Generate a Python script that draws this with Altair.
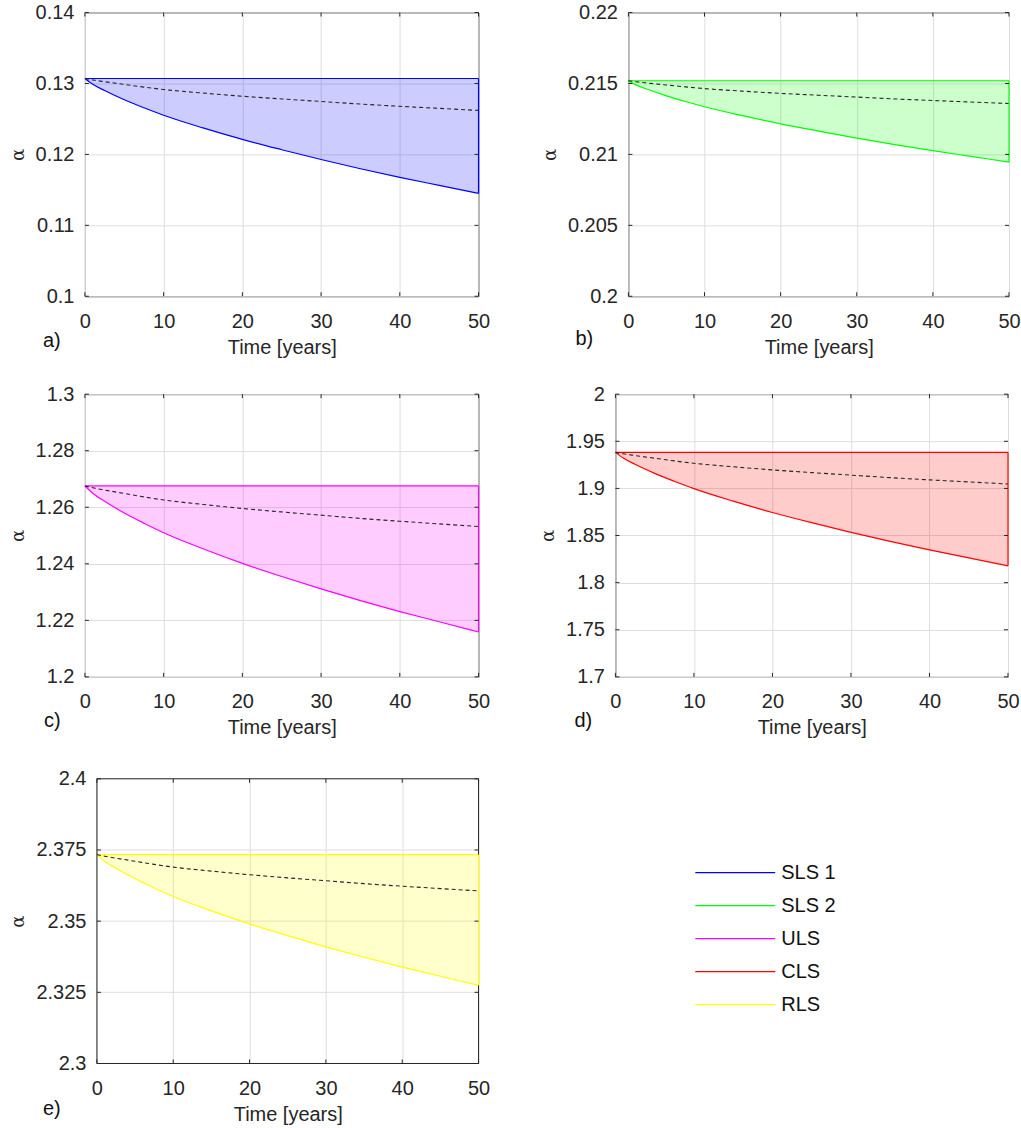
import altair as alt
import pandas as pd

# ---- data ----
T = [0, 1, 2.5, 5, 7.5, 10, 15, 20, 25, 30, 35, 40, 45, 50]

NAMES = ["SLS 1", "SLS 2", "ULS", "CLS", "RLS"]
COLORS = ["#0000ff", "#00ff00", "#ff00ff", "#ff0000", "#ffff00"]
PANEL_LABELS = ["a)", "b)", "c)", "d)", "e)"]

UPPER_A = 0.1307
LOWER_A = [0.1307, 0.12989, 0.12900, 0.12770, 0.12657, 0.12552, 0.12373, 0.12211, 0.12066, 0.11928, 0.11798, 0.11677, 0.11563, 0.1145]
MEAN_A = [0.1307, 0.1305, 0.13025, 0.12987, 0.12948, 0.12915, 0.12865, 0.1282, 0.12782, 0.12746, 0.1271, 0.12678, 0.12649, 0.1262]

UPPER_B = 0.21519
LOWER_B = [0.21519, 0.2149, 0.21459, 0.21413, 0.21373, 0.21336, 0.21273, 0.21215, 0.21164, 0.21115, 0.21069, 0.21026, 0.20986, 0.20946]
MEAN_B = [0.21519, 0.21512, 0.21503, 0.21489, 0.21476, 0.21464, 0.21446, 0.2143, 0.21417, 0.21404, 0.21391, 0.2138, 0.21369, 0.21359]

UPPER_C = 1.26753
LOWER_C = [1.26753, 1.26495, 1.26211, 1.25797, 1.25436, 1.251, 1.24532, 1.24016, 1.23551, 1.23112, 1.22698, 1.22311, 1.2195, 1.21588]
MEAN_C = [1.26753, 1.26688, 1.26609, 1.26488, 1.26366, 1.26258, 1.261, 1.25957, 1.25835, 1.2572, 1.25605, 1.25505, 1.25411, 1.25318]

UPPER_D = 1.93824
LOWER_D = [1.93824, 1.93222, 1.9256, 1.91597, 1.90755, 1.89972, 1.88649, 1.87445, 1.86362, 1.85339, 1.84376, 1.83473, 1.82631, 1.81788]
MEAN_D = [1.93824, 1.93673, 1.93489, 1.93204, 1.92918, 1.92667, 1.92298, 1.91963, 1.91677, 1.91409, 1.91141, 1.90906, 1.90688, 1.9047]

UPPER_E = 2.37339
LOWER_E = [2.37339, 2.37109, 2.36856, 2.36489, 2.36167, 2.35868, 2.35363, 2.34903, 2.34489, 2.34099, 2.33731, 2.33386, 2.33065, 2.32743]
MEAN_E = [2.37339, 2.37281, 2.37211, 2.37103, 2.36994, 2.36898, 2.36758, 2.3663, 2.36521, 2.36419, 2.36317, 2.36227, 2.36144, 2.36061]

X_TICKS = [0, 10, 20, 30, 40, 50]
Y_TICKS_A = [0.10, 0.11, 0.12, 0.13, 0.14]
Y_TICKS_B = [0.20, 0.205, 0.21, 0.215, 0.22]
Y_TICKS_C = [1.20, 1.22, 1.24, 1.26, 1.28, 1.30]
Y_TICKS_D = [1.70, 1.75, 1.80, 1.85, 1.90, 1.95, 2.00]
Y_TICKS_E = [2.30, 2.325, 2.35, 2.375, 2.40]

INK = "#262626"
GRID = "#dedede"
SANS = "Liberation Sans"
FS = 20


def panel(label, color, upper, lower, mean, yticks, width, height, lab_dx, lab_dy, inset=0):
    """inset > 0 shifts the plot frame right inside the cell (panel e)."""
    df = pd.DataFrame({"t": T, "lower": lower, "mean": mean, "upper": [upper] * len(T)})
    base = alt.Chart(df)
    xs_kw = dict(domain=[X_TICKS[0], X_TICKS[-1]], nice=False, zero=False)
    if inset:
        xs_kw["range"] = [inset, width]
    xscale = alt.Scale(**xs_kw)
    yscale = alt.Scale(domain=[yticks[0], yticks[-1]], nice=False, zero=False)
    xa_kw = dict(values=X_TICKS, format="d", title="Time [years]")
    ya_kw = dict(values=yticks, format=".6~g", title="α",
                 titleFont="DejaVu Serif", titleFontSize=18)
    if inset:
        xa_kw["titleX"] = (inset + width) / 2
        ya_kw["offset"] = -inset
        ya_kw["grid"] = False
    xaxis = alt.Axis(**xa_kw)
    yaxis = alt.Axis(**ya_kw)

    def X(f):
        return alt.X(f, type="quantitative", scale=xscale, axis=xaxis)

    def Y(f):
        return alt.Y(f, type="quantitative", scale=yscale, axis=yaxis)

    layers = []
    ydf = alt.Chart(pd.DataFrame({"v": yticks}))
    xdf = alt.Chart(pd.DataFrame({"v": X_TICKS}))
    if inset:
        layers.append(ydf.mark_rule(color=GRID, strokeWidth=1).encode(
            y=Y("v"), x=alt.value(inset), x2=alt.value(width)))

    layers.append(base.mark_area(color=color, opacity=0.2, interpolate="monotone").encode(
        x=X("t"), y=Y("lower"), y2="upper:Q"))
    layers.append(base.mark_line(color=color, strokeWidth=1.2, interpolate="monotone").encode(
        x=X("t"), y=Y("lower")))
    layers.append(base.mark_line(color=color, strokeWidth=1.2).encode(x=X("t"), y=Y("upper")))
    layers.append(base.mark_line(color=INK, strokeWidth=1.1, strokeDash=[4, 3],
                                 interpolate="monotone").encode(x=X("t"), y=Y("mean")))

    if inset:
        frame = alt.Chart(pd.DataFrame({"x0": [X_TICKS[0]], "x1": [X_TICKS[-1]],
                                        "y0": [yticks[0]], "y1": [yticks[-1]]}))
        layers.append(frame.mark_rect(filled=False, stroke=INK, strokeWidth=1).encode(
            x=X("x0"), x2="x1:Q", y=Y("y0"), y2="y1:Q"))

    layers.append(base.transform_filter(alt.datum.t == X_TICKS[-1]).mark_rule(
        color=color, strokeWidth=1.2).encode(x=X("t"), y=Y("lower"), y2="upper:Q"))

    layers.append(ydf.mark_rule(color=INK).encode(y=Y("v"), x=alt.value(inset), x2=alt.value(inset + 4)))
    layers.append(ydf.mark_rule(color=INK).encode(y=Y("v"), x=alt.value(width - 4), x2=alt.value(width)))
    layers.append(xdf.mark_rule(color=INK).encode(x=X("v"), y=alt.value(height - 4), y2=alt.value(height)))
    layers.append(xdf.mark_rule(color=INK).encode(x=X("v"), y=alt.value(0), y2=alt.value(4)))

    layers.append(alt.Chart(pd.DataFrame({"s": [label]})).mark_text(
        align="left", baseline="alphabetic", font=SANS, fontSize=FS, color="#111111"
    ).encode(text="s:N", x=alt.value(lab_dx), y=alt.value(lab_dy)))

    props = dict(width=width, height=height)
    if inset:
        props["view"] = alt.ViewBackground(stroke="transparent")
    return alt.layer(*layers).properties(**props)


pa = panel(PANEL_LABELS[0], COLORS[0], UPPER_A, LOWER_A, MEAN_A, Y_TICKS_A, 394, 284, -42, 350 - 15)
pb = panel(PANEL_LABELS[1], COLORS[1], UPPER_B, LOWER_B, MEAN_B, Y_TICKS_B, 381, 284, -53, 348 - 15)
pc = panel(PANEL_LABELS[2], COLORS[2], UPPER_C, LOWER_C, MEAN_C, Y_TICKS_C, 394, 283, -41, 727 - 394)
pd_ = panel(PANEL_LABELS[3], COLORS[3], UPPER_D, LOWER_D, MEAN_D, Y_TICKS_D, 393, 283, -41, 727 - 394)
pe = panel(PANEL_LABELS[4], COLORS[4], UPPER_E, LOWER_E, MEAN_E, Y_TICKS_E, 394, 285, -42, 1115 - 778, inset=12)

leg_df = pd.DataFrame({"name": NAMES})
ly = alt.Y("name:N", scale=alt.Scale(type="point", domain=NAMES, range=[94, 226], padding=0), axis=None)
leg_rule = alt.Chart(leg_df).mark_rule(strokeWidth=1.3).encode(
    y=ly, x=alt.value(152), x2=alt.value(232),
    color=alt.Color("name:N", scale=alt.Scale(domain=NAMES, range=COLORS), legend=None))
leg_text = alt.Chart(leg_df).mark_text(
    align="left", baseline="middle", font=SANS, fontSize=FS, color="#111111"
).encode(y=ly, x=alt.value(238), text="name:N")
legend = alt.layer(leg_rule, leg_text).properties(
    width=330, height=285, view=alt.ViewBackground(stroke="transparent"))

row1 = alt.hconcat(pa, pb, spacing=50)
row2 = alt.hconcat(pc, pd_, spacing=48)
row3 = alt.hconcat(pe, legend, spacing=52)
top = alt.vconcat(row1, row2, spacing=25)

chart = alt.vconcat(top, row3, spacing=29).properties(
    padding={"left": 8, "top": 1, "right": 0, "bottom": 0}
).configure(background="white").configure_view(
    stroke=INK, strokeWidth=1
).configure_axis(
    labelFont=SANS, labelFontSize=FS, labelColor=INK, labelFlush=False, labelOverlap=False,
    titleFont=SANS, titleFontSize=FS, titleColor=INK, titleFontWeight="normal",
    grid=True, gridColor=GRID, gridWidth=1, ticks=False, tickSize=0, domain=False,
).configure_axisX(labelPadding=15, titlePadding=6).configure_axisY(labelPadding=11, titlePadding=8)

chart.save("out.html", embed_options={"renderer": "svg", "actions": False})
